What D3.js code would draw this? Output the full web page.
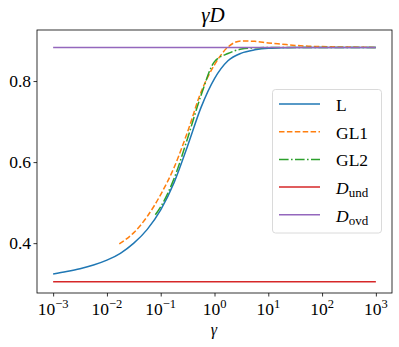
<!DOCTYPE html>
<html><head><meta charset="utf-8">
<script src="https://cdn.jsdelivr.net/npm/d3@7"></script>
<style>body{margin:0;background:#fff}svg{display:block}</style>
</head><body><svg id="c" width="399" height="347"></svg>
<script>
// log10(gamma) sample points and read values
const L_lg   = [-3,-2.75,-2.5,-2.25,-2,-1.75,-1.5,-1.25,-1,-0.75,-0.5,-0.25,0,0.25,0.5,0.75,1,1.25,1.5,2,2.5,3];
const L_val  = [0.324,0.330,0.337,0.346,0.358,0.375,0.400,0.434,0.482,0.550,0.640,0.735,0.806,0.850,0.869,0.877,0.881,0.882,0.883,0.883,0.883,0.883];
const GL1_lg  = [-1.77,-1.5,-1.25,-1,-0.75,-0.5,-0.25,0,0.25,0.5,0.75,1,1.25,1.5,1.75,2,2.5,3];
const GL1_val = [0.398,0.426,0.466,0.520,0.587,0.675,0.773,0.840,0.884,0.899,0.898,0.894,0.891,0.888,0.886,0.885,0.884,0.883];
const GL2_lg  = [-1.10,-1,-0.75,-0.5,-0.25,0,0.25,0.5,0.75,1,1.5,2,2.5,3];
const GL2_val = [0.470,0.490,0.560,0.659,0.765,0.848,0.868,0.879,0.882,0.883,0.883,0.883,0.883,0.883];
const Dund_lg = [-3,3], Dund_val = [0.305,0.305];
const Dovd_lg = [-3,3], Dovd_val = [0.883,0.883];
const xTickExp = [-3,-2,-1,0,1,2,3];
const yTicks = [0.4,0.6,0.8];
const seriesNames = ["L","GL1","GL2","D_und","D_ovd"];

const svg = d3.select("#c");
const mL=37,mR=392,mT=30,mB=293;
const x = d3.scaleLog().domain([Math.pow(10,-3.3),Math.pow(10,3.3)]).range([mL,mR]);
const y = d3.scaleLinear().domain([0.277,0.926]).range([mB,mT]);
const font = "'Liberation Serif','DejaVu Serif',serif";

const series = [
  {name:seriesNames[0], lg:L_lg, v:L_val, color:"#1f77b4", dash:null},
  {name:seriesNames[1], lg:GL1_lg, v:GL1_val, color:"#ff7f0e", dash:"5.5,2.4"},
  {name:seriesNames[2], lg:GL2_lg, v:GL2_val, color:"#2ca02c", dash:"9.6,2.4,1.6,2.4"},
  {name:seriesNames[3], lg:Dund_lg, v:Dund_val, color:"#d62728", dash:null},
  {name:seriesNames[4], lg:Dovd_lg, v:Dovd_val, color:"#9467bd", dash:null}
];
const line = d3.line().x(d=>x(d[0])).y(d=>y(d[1])).curve(d3.curveMonotoneX);
const g = svg.append("g");
series.forEach(s=>{
  const pts = s.lg.map((e,i)=>[Math.pow(10,e), s.v[i]]);
  g.append("path").attr("d",line(pts)).attr("fill","none").attr("stroke",s.color)
   .attr("stroke-width",1.5).attr("stroke-dasharray",s.dash);
});

// frame
svg.append("rect").attr("x",mL).attr("y",mT).attr("width",mR-mL).attr("height",mB-mT)
  .attr("fill","none").attr("stroke","#000").attr("stroke-width",0.8);

// x axis
const xa = svg.append("g").attr("transform",`translate(0,${mB})`)
  .call(d3.axisBottom(x).tickValues(xTickExp.map(e=>Math.pow(10,e))).tickSize(3.5).tickFormat(""));
xa.select(".domain").remove();
xa.selectAll("line").attr("stroke-width",0.8);
xTickExp.forEach(e=>{
  const t = svg.append("text").attr("x",x(Math.pow(10,e))).attr("y",315).attr("text-anchor","middle")
    .attr("font-family",font).attr("font-size",17.5);
  t.append("tspan").text("10");
  t.append("tspan").attr("dy",-7.5).attr("font-size",12.5).text(e<0?"\u2212"+(-e):String(e));
});
// y axis
const ya = svg.append("g").attr("transform",`translate(${mL},0)`)
  .call(d3.axisLeft(y).tickValues(yTicks).tickSize(3.5).tickFormat(""));
ya.select(".domain").remove();
ya.selectAll("line").attr("stroke-width",0.8);
yTicks.forEach(v=>{
  svg.append("text").attr("x",31).attr("y",y(v)+6).attr("text-anchor","end")
    .attr("font-family",font).attr("font-size",17.5).text(d3.format(".1f")(v));
});

// labels
svg.append("text").attr("x",214).attr("y",335).attr("text-anchor","middle")
  .attr("font-family",font).attr("font-style","italic").attr("font-size",16).text("\u03b3");
svg.append("text").attr("x",213).attr("y",22).attr("text-anchor","middle")
  .attr("font-family",font).attr("font-style","italic").attr("font-size",21).text("\u03b3D");

// legend
const lg = svg.append("g");
lg.append("rect").attr("x",272.5).attr("y",89.5).attr("width",109).attr("height",143.5).attr("rx",3)
  .attr("fill","#fff").attr("fill-opacity",0.8).attr("stroke","#d0d0d0").attr("stroke-width",0.8);
series.forEach((s,i)=>{
  const yy = 104 + i*27.7;
  lg.append("line").attr("x1",279).attr("x2",320).attr("y1",yy).attr("y2",yy)
    .attr("stroke",s.color).attr("stroke-width",1.5).attr("stroke-dasharray",s.dash);
  const t = lg.append("text").attr("x",336).attr("y",yy+7).attr("font-family",font).attr("font-size",17.5);
  if (s.name.startsWith("D_")) {
    t.append("tspan").attr("font-style","italic").text("D");
    t.append("tspan").attr("dy",3).attr("font-size",13).text(s.name.slice(2));
  } else t.text(s.name);
});
</script></body></html>
